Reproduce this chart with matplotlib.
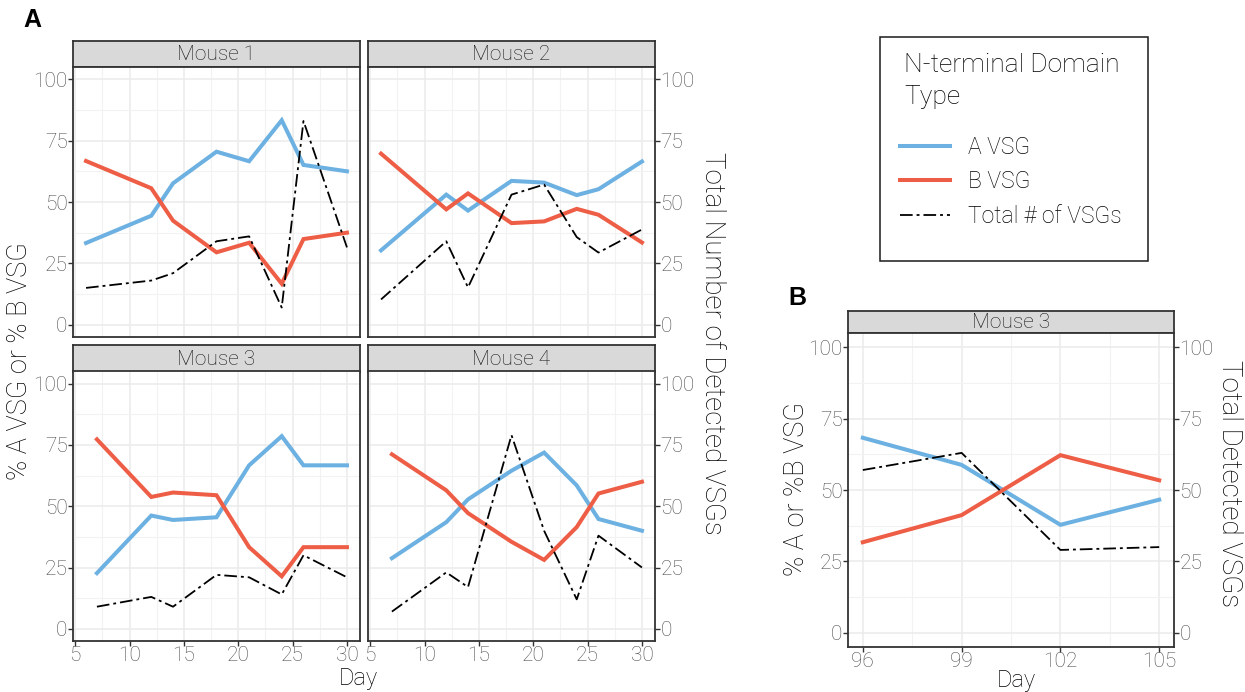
import matplotlib
matplotlib.use("Agg")
import matplotlib.pyplot as plt
from matplotlib.ticker import MultipleLocator
from matplotlib.patches import Rectangle

# ---- data ----
mice = ["Mouse 1", "Mouse 2", "Mouse 3", "Mouse 4"]
days = {
    "Mouse 1": [6, 12, 14, 18, 21, 24, 26, 30],
    "Mouse 2": [6, 12, 14, 18, 21, 24, 26, 30],
    "Mouse 3": [7, 12, 14, 18, 21, 24, 26, 30],
    "Mouse 4": [7, 12, 14, 18, 21, 24, 26, 30],
}
pct_a = {
    "Mouse 1": [33.3, 44.4, 57.6, 70.5, 66.6, 83.3, 65.1, 62.5],
    "Mouse 2": [30.3, 53.0, 46.5, 58.6, 57.9, 52.8, 55.2, 66.5],
    "Mouse 3": [22.7, 46.2, 44.4, 45.5, 66.7, 78.6, 66.7, 66.7],
    "Mouse 4": [28.8, 43.5, 52.8, 64.5, 71.9, 58.5, 44.8, 40.0],
}
pct_b = {
    "Mouse 1": [66.7, 55.6, 42.4, 29.5, 33.4, 16.7, 34.9, 37.5],
    "Mouse 2": [69.7, 47.0, 53.5, 41.4, 42.1, 47.2, 44.8, 33.5],
    "Mouse 3": [77.3, 53.8, 55.6, 54.5, 33.3, 21.4, 33.3, 33.3],
    "Mouse 4": [71.2, 56.5, 47.2, 35.5, 28.1, 41.5, 55.2, 60.0],
}
total_vsg = {
    "Mouse 1": [15, 18, 21, 34, 36, 7, 83, 31.5],
    "Mouse 2": [10.3, 34, 15.2, 53, 57.1, 35.7, 29.4, 38.8],
    "Mouse 3": [9, 13, 9, 22, 21, 14, 30, 21],
    "Mouse 4": [7, 23, 17, 79, 40, 12, 38, 25],
}

# panel B: mouse 3, late time points
days_b = [96, 99, 102, 105]
pct_a_b = [68.3, 58.8, 37.8, 46.6]
pct_b_b = [31.7, 41.2, 62.2, 53.4]
total_b = [57, 63, 29, 30]

y_ticks = [0, 25, 50, 75, 100]
x_ticks_a = [5, 10, 15, 20, 25, 30]
x_ticks_b = [96, 99, 102, 105]

BLUE = "#6CB1E1"
RED = "#EE5E46"
DOTDASH = (0, (7.0, 2.2, 1.6, 2.2))
DARK = "#333333"
TICKC = "#4D4D4D"

plt.rcParams["font.family"] = ["Roboto", "DejaVu Sans"]
plt.rcParams["font.weight"] = "light"

W, H = 1245, 692
fig = plt.figure(figsize=(W / 100, H / 100), dpi=100)


def px(x0, y0, x1, y1):
    return [x0 / W, 1 - y1 / H, (x1 - x0) / W, (y1 - y0) / H]


def strip(x0, y0, x1, y1, label):
    s = fig.add_axes(px(x0, y0, x1, y1))
    s.set_facecolor("#D9D9D9")
    s.set_xticks([])
    s.set_yticks([])
    for sp in s.spines.values():
        sp.set_color(DARK)
        sp.set_linewidth(1.3)
    s.text(0.5, 0.47, label, ha="center", va="center", fontsize=15,
           color="#1A1A1A", transform=s.transAxes)


def style_panel(ax, xlim, xmajor, xminor, left, right, bottom):
    ax.set_xlim(*xlim)
    ax.set_ylim(-5, 105)
    ax.set_xticks(xmajor)
    ax.xaxis.set_minor_locator(MultipleLocator(xminor))
    ax.set_yticks(y_ticks)
    ax.yaxis.set_minor_locator(MultipleLocator(12.5))
    ax.grid(which="major", color="#EBEBEB", lw=1.1)
    ax.grid(which="minor", color="#F2F2F2", lw=0.8)
    ax.set_axisbelow(True)
    for sp in ax.spines.values():
        sp.set_color(DARK)
        sp.set_linewidth(1.3)
    ax.tick_params(which="minor", length=0)
    ax.tick_params(which="major", length=3.5, width=1, color=DARK, pad=0.4,
                   labelsize=15, labelcolor=TICKC,
                   left=left, labelleft=left, right=right, labelright=right,
                   bottom=bottom, labelbottom=bottom, top=False)


def draw(ax, d, a, b, t):
    ax.plot(d, a, color=BLUE, lw=2.9, solid_joinstyle="miter", label="A VSG")
    ax.plot(d, b, color=RED, lw=2.9, solid_joinstyle="miter", label="B VSG")
    ax.plot(d, t, color="black", lw=1.3, ls=DOTDASH, label="Total # of VSGs")


cols = [(73, 360), (368, 655)]
rows = [(67, 337), (371.5, 641)]
strips = [(41, 67), (345, 371.5)]

for i, m in enumerate(mice):
    r, c = divmod(i, 2)
    x0, x1 = cols[c]
    y0, y1 = rows[r]
    strip(x0, strips[r][0], x1, strips[r][1], m)
    ax = fig.add_axes(px(x0, y0, x1, y1))
    draw(ax, days[m], pct_a[m], pct_b[m], total_vsg[m])
    style_panel(ax, (4.8, 31.2), x_ticks_a, 2.5,
                left=(c == 0), right=(c == 1), bottom=(r == 1))

fig.text(20 / W, 1 - 361 / H, "% A VSG or % B VSG", rotation=90,
         ha="center", va="center", fontsize=19.5, color="black")
fig.text(713 / W, 1 - 343 / H, "Total Number of Detected VSGs", rotation=-90,
         ha="center", va="center", fontsize=20, color="black")
fig.text(358 / W, 1 - 678 / H, "Day", ha="center", va="center", fontsize=17)
fig.text(32 / W, 1 - 20 / H, "A", ha="center", va="center", fontsize=18,
         fontweight="bold", family="Liberation Sans")

# panel B
strip(848, 311, 1174, 333, "Mouse 3")
axb = fig.add_axes(px(848, 333, 1174, 647))
draw(axb, days_b, pct_a_b, pct_b_b, total_b)
style_panel(axb, (95.55, 105.45), x_ticks_b, 1.5,
            left=True, right=True, bottom=True)
fig.text(796 / W, 1 - 489 / H, "% A or %B VSG", rotation=90,
         ha="center", va="center", fontsize=19.5, color="black")
fig.text(1230 / W, 1 - 484 / H, "Total Detected VSGs", rotation=-90,
         ha="center", va="center", fontsize=20, color="black")
fig.text(1016 / W, 1 - 681 / H, "Day", ha="center", va="center", fontsize=17)
fig.text(797 / W, 1 - 298 / H, "B", ha="center", va="center", fontsize=18,
         fontweight="bold", family="Liberation Sans")

# legend: frame and title drawn separately, keys from the plotted lines
fig.patches.append(Rectangle((880 / W, 1 - 261 / H), 268 / W, 224 / H,
                             transform=fig.transFigure, fill=False,
                             edgecolor="#1A1A1A", lw=1.1))
fig.text(904 / W, 1 - 81 / H, "N-terminal Domain\nType", ha="left",
         va="center", fontsize=19, linespacing=1.45)
handles, labels = axb.get_legend_handles_labels()
fig.legend(handles, labels, loc="upper left",
           bbox_to_anchor=(900 / W, 1 - 136 / H), frameon=False,
           fontsize=16.5, handlelength=2.2, handletextpad=0.75,
           labelspacing=0.5, borderpad=0, borderaxespad=0)

fig.savefig("out.png", dpi=100)
